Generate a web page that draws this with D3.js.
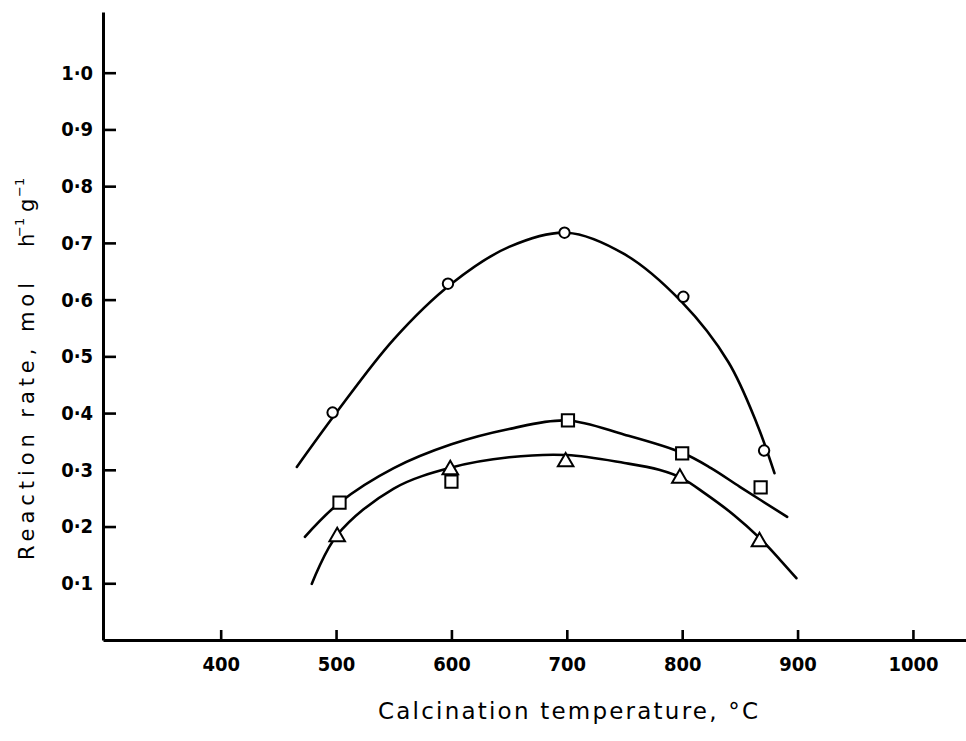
<!DOCTYPE html>
<html>
<head>
<meta charset="utf-8">
<script src="https://d3js.org/d3.v7.min.js"></script>
<style>
  body { margin: 0; background: #fff; }
  svg { display: block; }
</style>
</head>
<body>
<script>
// measured points (temperature in C, rate in mol/h/g)
var circleTemp = [497, 597, 698, 801, 871];
var circleRate = [0.401, 0.628, 0.718, 0.605, 0.334];
var squareTemp = [503, 600, 701, 800, 868];
var squareRate = [0.242, 0.279, 0.387, 0.329, 0.269];
var triangleTemp = [501, 599, 699, 798, 867];
var triangleRate = [0.182, 0.300, 0.314, 0.285, 0.173];

// hand drawn smooth curves
var circleCurveTemp = [466, 500, 550, 600, 650, 700, 750, 800, 840, 865, 880];
var circleCurveRate = [0.305, 0.400, 0.530, 0.628, 0.693, 0.718, 0.680, 0.595, 0.490, 0.380, 0.294];
var squareCurveTemp = [473, 503, 550, 600, 650, 700, 750, 800, 825, 850, 891];
var squareCurveRate = [0.182, 0.242, 0.303, 0.345, 0.372, 0.387, 0.362, 0.330, 0.303, 0.270, 0.217];
var triangleCurveTemp = [479, 501, 550, 600, 650, 700, 750, 780, 800, 820, 845, 867, 885, 899];
var triangleCurveRate = [0.099, 0.185, 0.267, 0.304, 0.322, 0.326, 0.312, 0.300, 0.285, 0.258, 0.220, 0.180, 0.141, 0.109];

var xTicks = [400, 500, 600, 700, 800, 900, 1000];
var yTicks = [0.1, 0.2, 0.3, 0.4, 0.5, 0.6, 0.7, 0.8, 0.9, 1.0];

var xTitle = "Calcination temperature, °C";
var yTitle = "Reaction rate, mol";

class ReactionPlot {
  constructor(width, height, margin) {
    this.width = width;
    this.height = height;
    this.margin = margin;

    this.svg = d3.select("body").append("svg")
      .attr("width", width + margin.left + margin.right)
      .attr("height", height + margin.top + margin.bottom);

    this.canvas = this.svg.append("g")
      .attr("transform", "translate(" + margin.left + "," + margin.top + ")");

    this.x = d3.scaleLinear().domain([298, 1046]).range([0, width]);
    this.y = d3.scaleLinear().domain([0, 1.107]).range([height, 0]);
  };

  plotAxes() {
    var tickFont = "'DejaVu Sans Condensed', 'DejaVu Sans', sans-serif";

    // x axis, ticks point up into the plot
    var xAxis = this.canvas.append("g")
      .attr("transform", "translate(0," + this.height + ")")
      .call(d3.axisBottom(this.x)
        .tickValues(xTicks)
        .tickSizeInner(-10)
        .tickSizeOuter(0)
        .tickPadding(17)
        .tickFormat(d3.format("d")));

    // y axis, ticks point right
    var yAxis = this.canvas.append("g")
      .call(d3.axisLeft(this.y)
        .tickValues(yTicks)
        .tickSizeInner(-13)
        .tickSizeOuter(0)
        .tickPadding(10)
        .tickFormat(function(d) {
          return d3.format(".1f")(d).replace(".", "\u00b7");
        }));

    [xAxis, yAxis].forEach(function(ax) {
      ax.select(".domain").attr("stroke", "#000").attr("stroke-width", 3);
      ax.selectAll(".tick line").attr("stroke", "#000").attr("stroke-width", 2.6);
      ax.selectAll(".tick text")
        .attr("fill", "#000")
        .style("font-family", tickFont)
        .style("font-weight", "bold")
        .style("font-size", "20px");
    });
  };

  plotTitles() {
    var font = "'DejaVu Sans', sans-serif";

    this.svg.append("text")
      .attr("x", 378)
      .attr("y", 719)
      .attr("textLength", 380)
      .attr("lengthAdjust", "spacing")
      .style("font-family", font)
      .style("font-size", "23px")
      .text(xTitle);

    this.svg.append("text")
      .attr("transform", "translate(34,560) rotate(-90)")
      .attr("textLength", 277)
      .attr("lengthAdjust", "spacing")
      .style("font-family", font)
      .style("font-size", "21px")
      .text(yTitle);

    // units with superscripts
    var parts = [
      {t: "h", x: 34, y: 247, s: 21},
      {t: "\u22121", x: 24, y: 237, s: 13},
      {t: "g", x: 34, y: 212, s: 21},
      {t: "\u22121", x: 24, y: 197, s: 13}
    ];
    this.svg.selectAll("text.unit")
      .data(parts)
      .enter()
        .append("text")
          .attr("class", "unit")
          .attr("transform", function(d) {
            return "translate(" + d.x + "," + d.y + ") rotate(-90)";
          })
          .style("font-family", font)
          .style("font-size", function(d) { return d.s + "px"; })
          .text(function(d) { return d.t; });
  };

  plotCurve(temps, rates) {
    var x = this.x, y = this.y;
    var pts = temps.map(function(t, i) { return [t, rates[i]]; });

    var line = d3.line()
      .x(function(d) { return x(d[0]); })
      .y(function(d) { return y(d[1]); })
      .curve(d3.curveCatmullRom.alpha(0.5));

    this.canvas.append("path")
      .datum(pts)
      .attr("d", line)
      .attr("fill", "none")
      .attr("stroke", "#000")
      .attr("stroke-width", 2.6)
      .attr("stroke-linecap", "round");
  };

  plotMarkers(temps, rates, symbol, size) {
    var x = this.x, y = this.y;
    var pts = temps.map(function(t, i) { return [t, rates[i]]; });

    this.canvas.append("g")
      .selectAll("path")
      .data(pts)
      .enter()
        .append("path")
          .attr("d", d3.symbol().type(symbol).size(size))
          .attr("transform", function(d) {
            return "translate(" + x(d[0]) + "," + y(d[1]) + ")";
          })
          .attr("fill", "#fff")
          .attr("stroke", "#000")
          .attr("stroke-width", 2);
  };
};

var plot = new ReactionPlot(863, 628, {top: 12, right: 0, bottom: 101, left: 103});

plot.plotAxes();
plot.plotTitles();

plot.plotCurve(circleCurveTemp, circleCurveRate);
plot.plotCurve(squareCurveTemp, squareCurveRate);
plot.plotCurve(triangleCurveTemp, triangleCurveRate);

plot.plotMarkers(circleTemp, circleRate, d3.symbolCircle, 85);
plot.plotMarkers(squareTemp, squareRate, d3.symbolSquare, 150);
plot.plotMarkers(triangleTemp, triangleRate, d3.symbolTriangle, 105);
</script>
</body>
</html>
